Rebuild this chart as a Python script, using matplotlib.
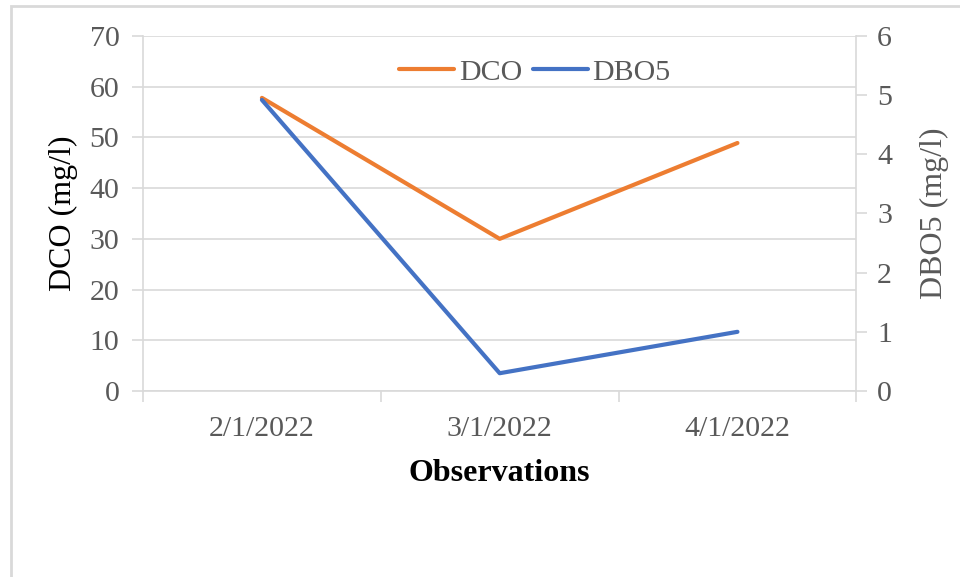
import matplotlib.pyplot as plt
from matplotlib.patches import Rectangle

# data
dates = ['2/1/2022', '3/1/2022', '4/1/2022']
dco = [57.8, 30.0, 48.9]      # mg/l, left axis
dbo5 = [4.92, 0.30, 1.00]     # mg/l, right axis

orange = '#ED7D31'
blue = '#4472C4'
grid_c = '#D9D9D9'
txt_c = '#595959'

plt.rcParams['font.family'] = 'Liberation Serif'
plt.rcParams['font.size'] = 21

fig = plt.figure(figsize=(9.6, 5.77), dpi=100)
ax = fig.add_axes([0.149, 0.3224, 0.743, 0.6152])
ax2 = ax.twinx()

x = list(range(len(dates)))
l1, = ax.plot(x, dco, color=orange, lw=3, solid_capstyle='round', label='DCO', zorder=3)
l2, = ax2.plot(x, dbo5, color=blue, lw=3, solid_capstyle='round', label='DBO5', zorder=3)

ax.set_xlim(-0.5, 2.5)
ax.set_ylim(0, 70)
ax2.set_ylim(0, 6)
ax.set_yticks(range(0, 71, 10))
ax2.set_yticks(range(0, 7))

# category ticks sit between the categories
ax.set_xticks([-0.5, 0.5, 1.5, 2.5])
ax.set_xticklabels([])
ax.set_xticks(x, minor=True)
ax.set_xticklabels(dates, minor=True)
ax.tick_params(axis='x', which='minor', length=0, pad=18, colors=txt_c, labelsize=21.5)
ax.tick_params(axis='x', which='major', length=8, color=grid_c, width=1.2)

ax.grid(axis='y', color=grid_c, lw=1.2)
ax.set_axisbelow(True)

for a in (ax, ax2):
    for s in a.spines.values():
        s.set_visible(False)
ax.spines['left'].set_visible(True)
ax.spines['left'].set_color(grid_c)
ax.spines['bottom'].set_visible(True)
ax.spines['bottom'].set_color(grid_c)
ax2.spines['right'].set_visible(True)
ax2.spines['right'].set_color(grid_c)
for s in (ax.spines['left'], ax.spines['bottom'], ax2.spines['right']):
    s.set_linewidth(1.2)

ax.tick_params(axis='y', length=8, color=grid_c, width=1.2, labelcolor=txt_c, labelsize=21.5, pad=9)
ax2.tick_params(axis='y', length=8, color=grid_c, width=1.2, labelcolor=txt_c, labelsize=21.5, pad=7)

ax.set_ylabel('DCO (mg/l)', fontsize=23, color='black', labelpad=8)
ax2.set_ylabel('DBO5 (mg/l)', fontsize=23, color=txt_c, labelpad=20)
ax.set_xlabel('Observations', fontsize=23, fontweight='bold', labelpad=12)

fig.legend(handles=[l1, l2], loc='center', bbox_to_anchor=(0.557, 0.875), ncol=2,
           frameon=False, fontsize=21.5, handlelength=1.85, handletextpad=0.15,
           columnspacing=0.35, labelcolor=txt_c)

# outer chart frame (only left and top edges fall inside the picture)
fig.patches.append(Rectangle((0.0115, -0.2), 1.2, 0.9896 + 0.2, transform=fig.transFigure,
                             fill=False, edgecolor=grid_c, lw=2))

plt.savefig('out.png', dpi=100)
